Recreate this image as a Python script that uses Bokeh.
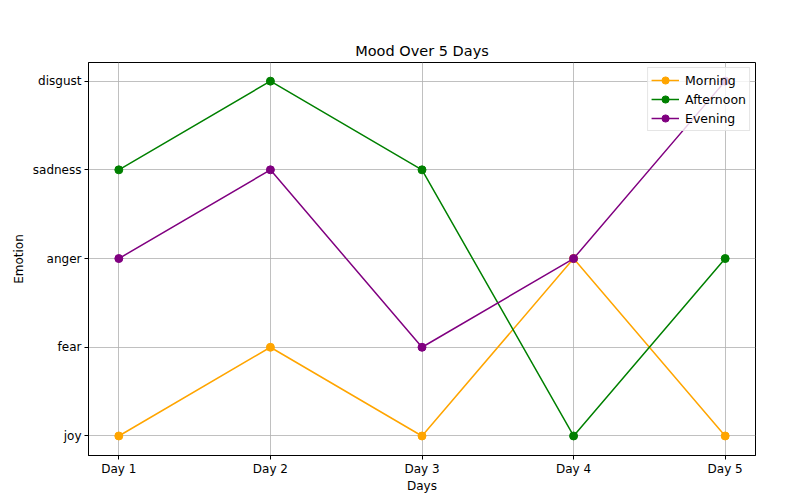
from bokeh.plotting import figure
from bokeh.models import FixedTicker, Range1d
from bokeh.embed import file_html
from bokeh.resources import INLINE

days = ["Day 1", "Day 2", "Day 3", "Day 4", "Day 5"]
emotions = ["joy", "fear", "anger", "sadness", "disgust"]
morning = ["joy", "fear", "joy", "anger", "joy"]
afternoon = ["sadness", "disgust", "sadness", "joy", "anger"]
evening = ["anger", "sadness", "fear", "anger", "disgust"]

series = [("Morning", morning, "orange"),
          ("Afternoon", afternoon, "green"),
          ("Evening", evening, "purple")]

FONT = "DejaVu Sans"

p = figure(width=806, height=495, output_backend="svg", toolbar_location=None,
           x_range=Range1d(-0.2, 4.2), y_range=Range1d(-0.22, 4.21),
           min_border_left=88, min_border_right=51, min_border_top=62,
           min_border_bottom=35)

xs = list(range(len(days)))
for name, vals, color in series:
    ys = [emotions.index(v) for v in vals]
    p.line(xs, ys, line_color=color, line_width=1.5, legend_label=name)
    p.scatter(xs, ys, marker="circle", size=8, fill_color=color, line_color=color,
              legend_label=name)

p.title.text = "Mood Over 5 Days"
p.title.align = "center"
p.title.text_font = FONT
p.title.text_font_style = "normal"
p.title.text_font_size = "14.5px"
p.title.text_color = "black"
p.title.standoff = 7

p.xaxis.ticker = FixedTicker(ticks=xs)
p.xaxis.major_label_overrides = {i: d for i, d in enumerate(days)}
p.yaxis.ticker = FixedTicker(ticks=list(range(len(emotions))))
p.yaxis.major_label_overrides = {i: e for i, e in enumerate(emotions)}
p.xaxis.axis_label = "Days"
p.yaxis.axis_label = "Emotion"

for ax in (p.xaxis[0], p.yaxis[0]):
    ax.axis_label_text_font = FONT
    ax.axis_label_text_font_style = "normal"
    ax.axis_label_text_font_size = "12px"
    ax.axis_label_text_color = "black"
    ax.major_label_text_font = FONT
    ax.major_label_text_font_size = "12px"
    ax.major_label_text_color = "black"
    ax.minor_tick_line_color = None
    ax.major_tick_in = 0
    ax.major_tick_out = 4
    ax.major_tick_line_color = "black"
    ax.axis_line_color = "black"
    ax.axis_label_standoff = 0
    ax.major_label_standoff = 2

p.yaxis.axis_label_standoff = 4
p.yaxis.major_label_standoff = 3

p.outline_line_color = "black"
p.outline_line_alpha = 1
p.grid.grid_line_color = "#b0b0b0"
p.grid.grid_line_alpha = 0.8
p.grid.grid_line_width = 1

p.legend.location = "top_right"
p.legend.label_text_font = FONT
p.legend.label_text_font_size = "12.5px"
p.legend.label_text_color = "black"
p.legend.border_line_color = "#cccccc"
p.legend.background_fill_alpha = 0.8
p.legend.margin = 5
p.legend.padding = 3
p.legend.spacing = 1
p.legend.glyph_height = 18
p.legend.label_height = 18
p.legend.glyph_width = 28
p.legend.label_standoff = 6

open("out.html", "w").write(file_html(p, INLINE))
